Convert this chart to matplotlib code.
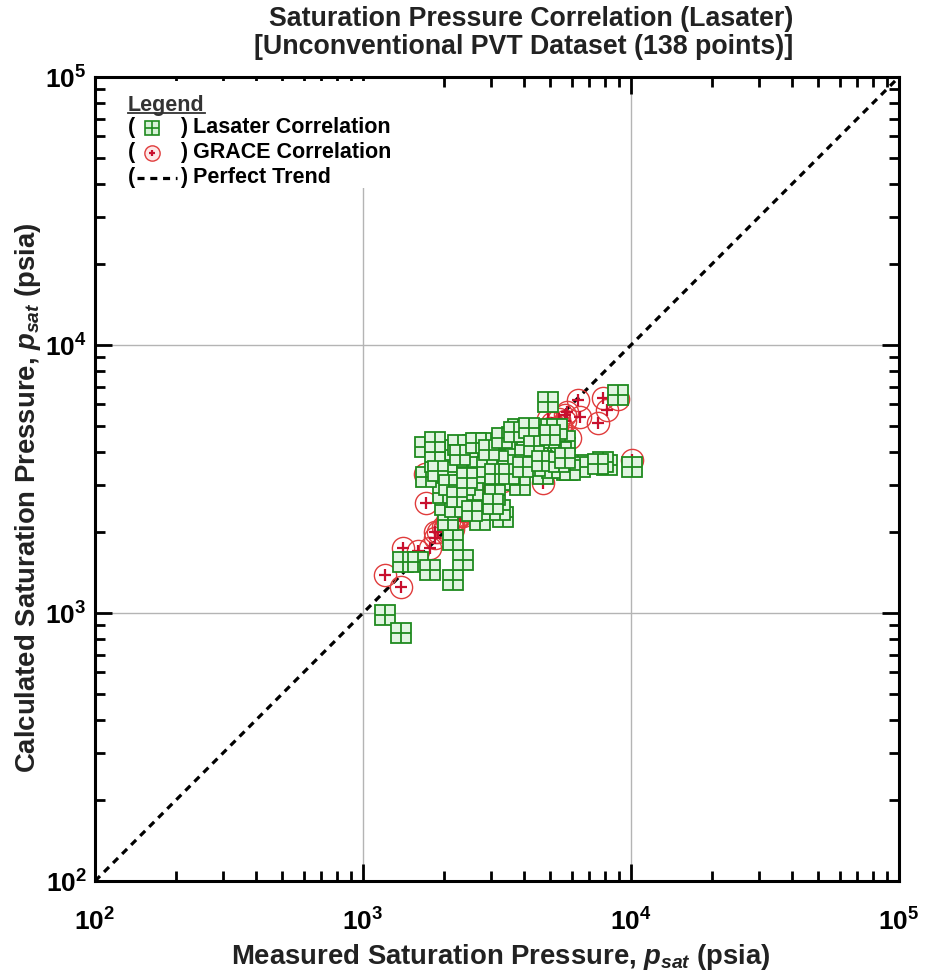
import math
import matplotlib
matplotlib.use("Agg")
import matplotlib.pyplot as plt
from matplotlib.patches import Rectangle
from matplotlib.ticker import FixedLocator, LogLocator, FuncFormatter, NullFormatter

plt.rcParams['font.family'] = ['Liberation Sans', 'DejaVu Sans']
plt.rcParams['font.weight'] = 'bold'
plt.rcParams['mathtext.fontset'] = 'custom'
plt.rcParams['mathtext.rm'] = 'Liberation Sans:bold'
plt.rcParams['mathtext.it'] = 'Liberation Sans:italic:bold'
plt.rcParams['mathtext.bf'] = 'Liberation Sans:bold'

# measured psat, Lasater calculated psat, GRACE calculated psat (psia)
psat_measured = [
    1208, 1390, 1410, 1604, 1778, 2167, 2361, 2167, 2076, 2023,
    2573, 2733, 3330, 3244, 2204, 1988, 2573, 1720, 2058, 2444,
    2852, 3330, 1703, 2023, 2573, 2804, 3597, 3536, 3853, 4199,
    4859, 5433, 3446, 4308, 5117, 5769, 3536, 4696, 4901, 8943,
    10090, 8137, 6343, 6453, 7862, 7531, 5073, 5919, 4022, 4576,
    5205, 3108, 3853, 2402, 1856, 3691, 2686, 2262, 4986, 5671,
    4500, 4800, 5200, 4200, 3900, 4400, 4900, 5500, 4100, 3700,
    3000, 3200, 2900, 2300, 4600, 5300, 3400, 2750, 4950, 3800,
    1900, 2100, 2250, 2450, 2650, 2950, 3100, 3300, 3500, 3650,
    3950, 4150, 4350, 4650, 5000, 5400, 5650, 2550, 3050, 1850,
]
psat_lasater = [
    983, 842, 1550, 1550, 1447, 1328, 1577, 1872, 2223, 2529,
    2529, 2223, 2281, 2423, 2486, 2804, 2877, 3217, 3358, 3505,
    3330, 3135, 4163, 4057, 4235, 4057, 4537, 4308, 4696, 4346,
    4308, 4163, 3723, 3628, 3476, 3417, 3135, 3300, 6128, 6508,
    3505, 3566, 3566, 3505, 3650, 3600, 3476, 3420, 3820, 4616,
    3886, 2756, 3003, 3003, 3660, 4221, 3820, 4235, 4819, 4400,
    4750, 4780, 4760, 4700, 4600, 3550, 3900, 4000, 4000, 3900,
    4100, 3700, 3500, 3900, 4850, 4850, 4450, 4300, 4500, 4850,
    3400, 3000, 2700, 3200, 4300, 4050, 3300, 4500, 3300, 4750,
    3500, 4900, 4200, 3700, 4600, 3650, 3800, 2400, 2550, 4350,
]
psat_grace = [
    1386, 1250, 1748, 1700, 1748, 2050, 2300, 2200, 2000, 2076,
    2500, 2600, 3100, 3300, 2300, 2100, 2700, 2573, 2200, 2500,
    2900, 3200, 3300, 2100, 2700, 2800, 3500, 3600, 3800, 4100,
    4600, 5000, 3400, 4200, 4700, 5622, 3300, 3055, 5300, 6300,
    3723, 5720, 6235, 5386, 6343, 5117, 5117, 4498, 3900, 4400,
    4800, 3000, 3700, 2400, 2000, 3600, 2700, 2300, 4700, 5200,
    4300, 4500, 4800, 4000, 3800, 4200, 4600, 5000, 3900, 3600,
    2900, 3100, 2800, 2300, 4400, 4900, 3300, 2700, 4600, 3700,
    2000, 2200, 2250, 2500, 2700, 2950, 3100, 3300, 3500, 3650,
    3950, 4150, 4350, 4650, 4900, 5300, 5500, 2550, 3050, 1900,
]
trend = [1e2, 1e5]

green = '#1f8a1f'
red = '#e03c3c'

fig = plt.figure(figsize=(9.25, 9.76), dpi=100)
ax = fig.add_axes([0.1027, 0.0973, 0.8692, 0.8238])

ax.plot(trend, trend, color='black', lw=2.3, dashes=(2.2, 1.8), zorder=2)

ax.plot(psat_measured, psat_grace, ls='none', marker='o', ms=16,
        mfc='none', mec=red, mew=1.0, zorder=3)
ax.plot(psat_measured, psat_grace, ls='none', marker='+', ms=8,
        mec='#c8102e', mew=1.6, zorder=3)
for xm, yl in zip(psat_measured, psat_lasater):
    ax.plot(xm, yl, ls='none', marker='s', ms=15, mfc='#e2f5e2', mec=green,
            mew=1.3, zorder=4)
    ax.plot(xm, yl, ls='none', marker='+', ms=15, mec=green, mew=1.3, zorder=4)

ax.set_xscale('log')
ax.set_yscale('log')
ax.set_xlim(1e2, 1e5)
ax.set_ylim(1e2, 1e5)

fmt = FuncFormatter(lambda v, p: r'$\mathrm{10^{%d}}$' % round(math.log10(v)))
for axis in (ax.xaxis, ax.yaxis):
    axis.set_major_locator(FixedLocator([1e2, 1e3, 1e4, 1e5]))
    axis.set_minor_locator(LogLocator(base=10, subs=range(2, 10)))
    axis.set_major_formatter(fmt)
    axis.set_minor_formatter(NullFormatter())

ax.tick_params(which='both', direction='in', top=True, right=True, width=2, labelsize=19)
ax.tick_params(which='major', length=12)
ax.tick_params(which='minor', length=7)
ax.tick_params(axis='x', pad=20)
ax.tick_params(axis='y', pad=6)
for sp in ax.spines.values():
    sp.set_linewidth(2.2)

ax.set_axisbelow(True)
ax.grid(True, which='major', color='#b4b4b4', lw=1.0)

# legend block
ax.add_patch(Rectangle((0.025, 0.862), 0.38, 0.133, transform=ax.transAxes,
                       facecolor='white', edgecolor='none', zorder=1))
ax.text(0.041, 0.965, 'Legend', transform=ax.transAxes, fontsize=15.5,
        ha='left', va='center', color='#333333', zorder=5)
ax.plot([0.041, 0.137], [0.9555, 0.9555], transform=ax.transAxes,
        color='#333333', lw=1.3, zorder=5)
rows = [0.9366, 0.9055, 0.8744]
labels = [') Lasater Correlation', ') GRACE Correlation', ') Perfect Trend']
for yr, lab in zip(rows, labels):
    ax.text(0.041, yr, '(', transform=ax.transAxes, fontsize=15.5,
            ha='left', va='center', zorder=5)
    ax.text(0.106, yr, lab, transform=ax.transAxes, fontsize=15.5,
            ha='left', va='center', zorder=5)
ax.plot(0.0709, rows[0], transform=ax.transAxes, marker='s', ms=10,
        mfc='#d8f2d8', mec=green, mew=1.2, zorder=5, clip_on=False)
ax.plot(0.0709, rows[0], transform=ax.transAxes, marker='+', ms=10,
        mec=green, mew=1.2, zorder=5, clip_on=False)
ax.plot(0.0709, rows[1], transform=ax.transAxes, marker='o', ms=11,
        mfc='#fde8e8', mec=red, mew=1.0, zorder=5, clip_on=False)
ax.plot(0.0709, rows[1], transform=ax.transAxes, marker='+', ms=5,
        mec='#c8102e', mew=1.6, zorder=5, clip_on=False)
ax.plot([0.052, 0.102], [rows[2], rows[2]], transform=ax.transAxes,
        color='black', lw=2.3, dashes=(2.2, 1.8), zorder=5)

fig.text(793 / 925, 1 - 33 / 976,
         'Saturation Pressure Correlation (Lasater)\n[Unconventional PVT Dataset (138 points)]',
         ha='right', va='center', multialignment='right', fontsize=19.3,
         linespacing=1.12, color='#222222')
fig.text(501 / 925, 1 - 957 / 976,
         r'Measured Saturation Pressure, $p_{sat}$ (psia)',
         ha='center', va='center', fontsize=19.8, color='#222222')
fig.text(28 / 925, 0.49,
         r'Calculated Saturation Pressure, $p_{sat}$ (psia)',
         ha='center', va='center', rotation=90, fontsize=19.8, color='#222222')

fig.savefig('out.png', dpi=100)
